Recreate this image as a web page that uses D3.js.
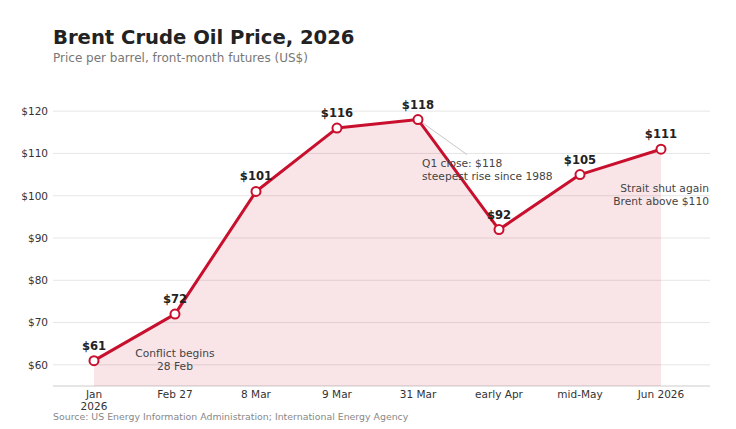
<!DOCTYPE html>
<html>
<head>
<meta charset="utf-8">
<script src="https://cdn.jsdelivr.net/npm/d3@7"></script>
<style>
  body { margin: 0; background: #fff; }
  svg { font-family: "DejaVu Sans", sans-serif; }
</style>
</head>
<body>
<div id="chart"></div>
<script>
// Data
const labels = ["Jan\n2026", "Feb 27", "8 Mar", "9 Mar", "31 Mar", "early Apr", "mid-May", "Jun 2026"];
const prices = [61, 72, 101, 116, 118, 92, 105, 111];
const yTicks = [60, 70, 80, 90, 100, 110, 120];

const width = 736, height = 429;
const margin = { left: 53, right: 26, top: 90, bottom: 43 };
const red = "#c8102e";

const svg = d3.select("#chart").append("svg")
    .attr("width", width)
    .attr("height", height);

// Scales
const x = d3.scaleLinear()
    .domain([-0.506, labels.length - 1 + 0.605])
    .range([margin.left, width - margin.right]);
const y = d3.scaleLinear()
    .domain([55, 125])
    .range([height - margin.bottom, margin.top]);

// Title + subtitle
svg.append("text")
    .attr("x", 53).attr("y", 44)
    .attr("font-size", 19.6).attr("font-weight", "bold")
    .attr("fill", "#222")
    .text("Brent Crude Oil Price, 2026");
svg.append("text")
    .attr("x", 53).attr("y", 62)
    .attr("font-size", 12).attr("fill", "#777")
    .text("Price per barrel, front-month futures (US$)");

// Gridlines
svg.append("g")
    .selectAll("line")
    .data(yTicks)
    .enter().append("line")
    .attr("x1", margin.left).attr("x2", width - margin.right)
    .attr("y1", d => y(d)).attr("y2", d => y(d))
    .attr("stroke", "#e6e6e6").attr("stroke-width", 1);

// Y axis labels
const yAxis = svg.append("g")
    .attr("transform", `translate(${margin.left},0)`)
    .call(d3.axisLeft(y).tickValues(yTicks).tickSize(0).tickPadding(5).tickFormat(d => "$" + d));
yAxis.select(".domain").remove();
yAxis.selectAll("text").attr("font-size", 10.5).attr("fill", "#333").attr("font-family", "DejaVu Sans, sans-serif");

// Bottom axis line
svg.append("line")
    .attr("x1", margin.left).attr("x2", width - margin.right)
    .attr("y1", y(55)).attr("y2", y(55))
    .attr("stroke", "#ccc");

// X labels
const xl = svg.append("g")
    .selectAll("text")
    .data(labels)
    .enter().append("text")
    .attr("x", (d, i) => x(i))
    .attr("y", y(55) + 12)
    .attr("text-anchor", "middle")
    .attr("font-size", 10.5)
    .attr("fill", "#333");
xl.each(function(d) {
    const parts = d.split("\n");
    const t = d3.select(this);
    parts.forEach((p, k) => {
        t.append("tspan").attr("x", t.attr("x")).attr("dy", k === 0 ? 0 : 11.5).text(p);
    });
});

// Area
const area = d3.area()
    .x((d, i) => x(i))
    .y0(y(55))
    .y1(d => y(d));
svg.append("path")
    .datum(prices)
    .attr("d", area)
    .attr("fill", red)
    .attr("fill-opacity", 0.11);

// Line
const line = d3.line()
    .x((d, i) => x(i))
    .y(d => y(d));
svg.append("path")
    .datum(prices)
    .attr("d", line)
    .attr("fill", "none")
    .attr("stroke", red)
    .attr("stroke-width", 3)
    .attr("stroke-linejoin", "round");

// Connector for Q1 annotation
svg.append("line")
    .attr("x1", x(4)).attr("y1", y(118))
    .attr("x2", x(4) + 49).attr("y2", y(118) + 35)
    .attr("stroke", "#c8c8c8").attr("stroke-width", 1);

// Markers
svg.append("g")
    .selectAll("circle")
    .data(prices)
    .enter().append("circle")
    .attr("cx", (d, i) => x(i))
    .attr("cy", d => y(d))
    .attr("r", 4.5)
    .attr("fill", "#fff")
    .attr("stroke", red)
    .attr("stroke-width", 2);

// Value labels
svg.append("g")
    .selectAll("text")
    .data(prices)
    .enter().append("text")
    .attr("x", (d, i) => x(i))
    .attr("y", d => y(d) - 11)
    .attr("text-anchor", "middle")
    .attr("font-size", 11.6)
    .attr("font-weight", "bold")
    .attr("fill", "#222")
    .text(d => "$" + d);

// Annotations
function note(lines, px, py, anchor) {
    const t = svg.append("text")
        .attr("x", px).attr("y", py)
        .attr("text-anchor", anchor)
        .attr("font-size", 10.7)
        .attr("fill", "#444");
    lines.forEach((l, k) => {
        t.append("tspan").attr("x", px).attr("dy", k === 0 ? 0 : 13).text(l);
    });
}
note(["Conflict begins", "28 Feb"], x(1), 357, "middle");
note(["Q1 close: $118", "steepest rise since 1988"], x(4) + 4, 167, "start");
note(["Strait shut again", "Brent above $110"], width - 27, 192, "end");

// Source
svg.append("text")
    .attr("x", 53).attr("y", 420)
    .attr("font-size", 9.4)
    .attr("fill", "#888")
    .text("Source: US Energy Information Administration; International Energy Agency");
</script>
</body>
</html>
